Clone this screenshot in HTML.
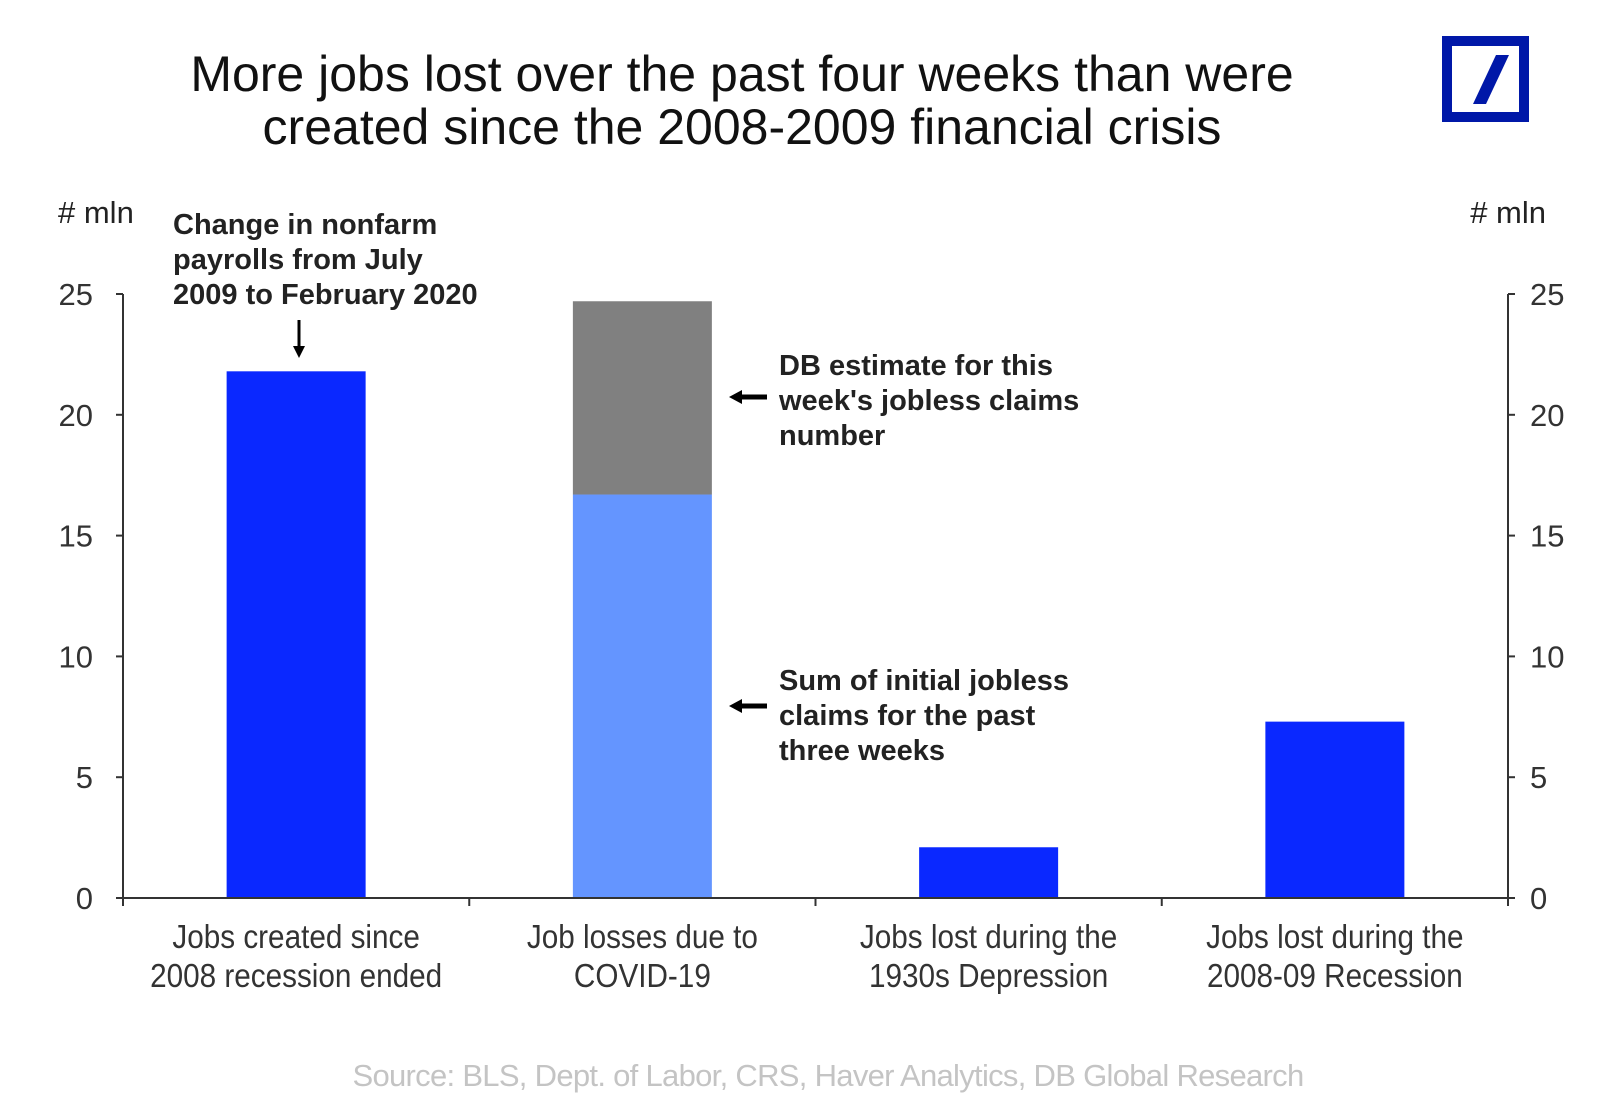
<!DOCTYPE html>
<html><head><meta charset="utf-8"><style>
html,body{margin:0;padding:0;background:#fff;}
svg{display:block;font-family:"Liberation Sans",Arial,sans-serif;}
</style></head><body>
<svg id="chart" width="1600" height="1105" viewBox="0 0 1600 1105">
<text x="742" y="91" font-size="50" text-anchor="middle" fill="#111">More jobs lost over the past four weeks than were</text>
<text x="742" y="144" font-size="50" text-anchor="middle" fill="#111">created since the 2008-2009 financial crisis</text>
<g>
<rect x="1457" y="41" width="77" height="76" fill="none" stroke="#0018a8" stroke-width="10" transform="translate(-10,0)"/>
<polygon points="1473,104 1486,104 1509,55 1496,55" fill="#0018a8"/>
</g>
<text x="58" y="223" font-size="31" fill="#222"># mln</text>
<text x="1546" y="223" font-size="31" fill="#222" text-anchor="end"># mln</text>
<g id="plot"></g>
<g font-weight="bold" font-size="29" fill="#222">
<text x="173" y="234"><tspan x="173">Change in nonfarm</tspan><tspan x="173" dy="35">payrolls from July</tspan><tspan x="173" dy="35">2009 to February 2020</tspan></text>
<text x="779" y="375"><tspan x="779">DB estimate for this</tspan><tspan x="779" dy="35">week's jobless claims</tspan><tspan x="779" dy="35">number</tspan></text>
<text x="779" y="690"><tspan x="779">Sum of initial jobless</tspan><tspan x="779" dy="35">claims for the past</tspan><tspan x="779" dy="35">three weeks</tspan></text>
</g>
<g fill="#000" stroke="#000">
<line x1="299" y1="320" x2="299" y2="350" stroke-width="3"/><polygon points="293,346 305,346 299,358" stroke="none"/>
<line x1="740" y1="397" x2="767" y2="397" stroke-width="5"/><polygon points="742,390 742,404 729,397" stroke="none"/>
<line x1="740" y1="706" x2="767" y2="706" stroke-width="5"/><polygon points="742,699 742,713 729,706" stroke="none"/>
</g>
<text x="828" y="1086" font-size="31" fill="#c4c4c4" text-anchor="middle" letter-spacing="-0.7">Source: BLS, Dept. of Labor, CRS, Haver Analytics, DB Global  Research</text>
</svg>
<script>
const categories = [["Jobs created since","2008 recession ended"],["Job losses due to","COVID-19"],["Jobs lost during the","1930s Depression"],["Jobs lost during the","2008-09 Recession"]];
const baseValues = [21.8, 16.7, 2.1, 7.3];
const estimateValues = [0, 8.0, 0, 0];
const baseColors = ["#0a28ff","#6495ff","#0a28ff","#0a28ff"];
const yTicks = [0,5,10,15,20,25];

const NS="http://www.w3.org/2000/svg";
const plot=document.getElementById('plot');
const X0=123, X1=1508, Y0=898, Y25=294;
const catW=(X1-X0)/categories.length, barW=139;
function y(v){return Y0-(v/25)*(Y0-Y25);}
function xc(i){return X0+catW*(i+0.5);}
function mk(tag,attrs){const e=document.createElementNS(NS,tag);for(const k in attrs)e.setAttribute(k,attrs[k]);plot.appendChild(e);return e;}

baseValues.forEach((v,i)=>{
  const r=mk('rect',{x:xc(i)-barW/2,y:y(v),width:barW,height:Y0-y(v),fill:baseColors[i]});
  
  
  if(estimateValues[i]>0){
    const t=v+estimateValues[i];
    const s=mk('rect',{x:xc(i)-barW/2,y:y(t),width:barW,height:y(v)-y(t),fill:"#808080"});
    
    
  }
});
const la=mk('line',{x1:X0,y1:Y25,x2:X0,y2:Y0,stroke:"#333","stroke-width":2});


const ra=mk('line',{x1:X1,y1:Y25,x2:X1,y2:Y0,stroke:"#333","stroke-width":2});


const xa=mk('line',{x1:X0,y1:Y0,x2:X1,y2:Y0,stroke:"#333","stroke-width":2});


yTicks.forEach(t=>{
  mk('line',{x1:X0,y1:y(t),x2:X0-7,y2:y(t),stroke:"#333","stroke-width":2});
  mk('line',{x1:X1,y1:y(t),x2:X1+7,y2:y(t),stroke:"#333","stroke-width":2});
  const l=mk('text',{x:X0-30,y:y(t)+11,"font-size":31,"text-anchor":"end",fill:"#333"});l.textContent=t;
  
  
  const r=mk('text',{x:X1+22,y:y(t)+11,"font-size":31,fill:"#333"});r.textContent=t;
  
  
});
for(let i=0;i<=categories.length;i++){mk('line',{x1:X0+catW*i,y1:Y0,x2:X0+catW*i,y2:Y0+8,stroke:"#333","stroke-width":2});}
categories.forEach((c,i)=>{
  c.forEach((ln,j)=>{
    const t=mk('text',{x:0,y:948+j*39,"font-size":33,"text-anchor":"middle",fill:"#333",transform:"translate("+xc(i)+",0) scale(0.9,1)",letterSpacing:"-0.5"});
    t.textContent=ln;
    
    
  });
});
</script>
</body></html>
